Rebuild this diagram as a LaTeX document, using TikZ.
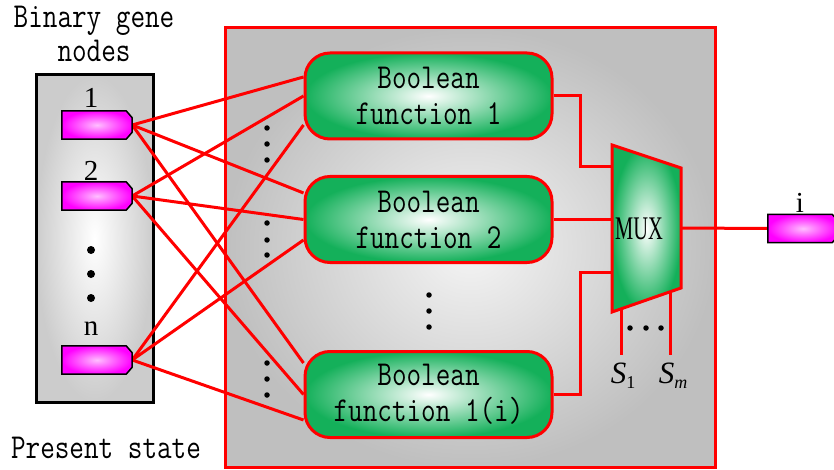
\documentclass[tikz,border=0pt]{standalone}
\usepackage{fontspec}
\setmainfont{Liberation Serif}
\newfontfamily\gfont[FakeStretch=0.81]{Latin Modern Mono}
\newfontfamily\muxfont[FakeStretch=0.62]{Liberation Serif}
\usetikzlibrary{calc}
\pgfdeclarelayer{back}
\pgfdeclarelayer{wires}
\pgfsetlayers{back,wires,main}
\definecolor{gr}{RGB}{20,176,90}
\definecolor{pk}{RGB}{255,0,255}
\newcommand\genepath[1]{%
  \shade[draw=black, line width=1.5pt, inner color=white!75!pk, outer color=pk]
    (#1.north west) -- ([xshift=-6pt]#1.north east) -- ([yshift=-7pt]#1.north east)
    -- ([yshift=7pt]#1.south east) -- ([xshift=-6pt]#1.south east) -- (#1.south west) -- cycle;}
\begin{document}
\begin{tikzpicture}[x=1pt,y=-1pt,
  wire/.style={draw=red,line width=3pt},
  gene/.style={minimum width=70pt, minimum height=28pt, inner sep=0pt},
  bfbox/.style={rounded corners=25pt, draw=red, line width=3pt, inner color=white, outer color=gr,
    minimum width=247pt, minimum height=86pt, align=center, inner sep=0pt,
    font=\gfont\fontsize{35}{36}\selectfont},
  lab/.style={font=\fontsize{29}{29}\selectfont, inner sep=0pt},
  mono/.style={font=\gfont\fontsize{35}{34}\selectfont, inner sep=0pt, anchor=base},
  bigdot/.style={circle, fill=black, inner sep=0pt, minimum size=8pt},
  dot/.style={circle, fill=black, inner sep=0pt, minimum size=5.5pt},
]
\useasboundingbox (0,0) rectangle (834,470);

% panels
\begin{pgfonlayer}{back}
  \node[draw=black, line width=3pt, inner color=white, outer color=gray!40,
        minimum width=117pt, minimum height=327pt, inner sep=0pt] (left) at (94.5,238.5) {};
  \node[draw=red, line width=3pt, inner color=white!96!black, outer color=gray!50,
        minimum width=490pt, minimum height=439pt, inner sep=0pt] (panel) at (470,247.5) {};
\end{pgfonlayer}

% titles
\node[mono] (t1) at (94,28) {Binary gene};
\node[mono] (t2) at (94,62) {nodes};
\node[mono] (t3) at (106,458) {Present state};

% gene nodes
\node[gene] (g1) at (97,125) {};
\node[gene] (g2) at (97,196) {};
\node[gene] (gn) at (97,360) {};
\genepath{g1}
\genepath{g2}
\genepath{gn}
\node[lab] (l1) at (91,98) {1};
\node[lab] (l2) at (91,171) {2};
\node[lab] (ln) at (91,329) {n};
\node[bigdot] (d1) at (91,250) {};
\node[bigdot] (d2) at (91,274) {};
\node[bigdot] (d3) at (91,298) {};

% boolean functions
\node[bfbox] (bf1) at (428.5,96) {Boolean\\function 1};
\node[bfbox] (bf2) at (428.5,219.5) {Boolean\\function 2};
\node[bfbox] (bf3) at (428.5,394.5) {Boolean\\function 1(i)};

% dots
\foreach \yy [count=\k] in {128,144,160,223,240,255,363,379,395}
  \node[dot] (cd\k) at (267,\yy) {};
\foreach \yy [count=\k] in {295,311,327}
  \node[dot] (md\k) at (429,\yy) {};

% MUX
\shade[draw=red, line width=3pt, inner color=white, outer color=gr, line join=miter]
  (612,145) -- (681,168) -- (681,288) -- (612,312) -- cycle;
\node[font=\muxfont\fontsize{33}{33}\selectfont, inner sep=0pt] (mux) at (639,229) {MUX};
\coordinate (m1) at (612,167);
\coordinate (m2) at (612,219.5);
\coordinate (m3) at (612,272);
\coordinate (mo) at (681,228);
\coordinate (s1t) at (621,309);
\coordinate (smt) at (670,292);
\coordinate (s1b) at (621,355);
\coordinate (smb) at (670,355);

% output gene
\node[gene] (gi) at (803,228.5) {};
\genepath{gi}
\node[lab] (li) at (800,203) {i};

% select labels
\node[inner sep=0pt, anchor=base] (s1) at (623,383)
  {\fontsize{31}{31}\selectfont\itshape S\raisebox{-5pt}{\fontsize{18}{18}\selectfont\upshape 1}};
\node[inner sep=0pt, anchor=base] (sm) at (673,383)
  {\fontsize{31}{31}\selectfont\itshape S\raisebox{-5pt}{\fontsize{18}{18}\selectfont m}};
\node[dot] (sd1) at (630,328) {};
\node[dot] (sd2) at (646,328) {};
\node[dot] (sd3) at (661,328) {};

% wires
\begin{pgfonlayer}{wires}
  \draw[wire] (g1.east) -- ([yshift=19pt]bf1.west);
  \draw[wire] (g1.east) -- ([yshift=26.5pt]bf2.west);
  \draw[wire] (g1.east) -- ([yshift=31.5pt]bf3.west);
  \draw[wire] (g2.east) -- (bf1.west);
  \draw[wire] (g2.east) -- (bf2.west);
  \draw[wire] (g2.east) -- (bf3.west);
  \draw[wire] (gn.east) -- ([yshift=-29pt]bf1.west);
  \draw[wire] (gn.east) -- ([yshift=-20.5pt]bf2.west);
  \draw[wire] (gn.east) -- ([yshift=-25.5pt]bf3.west);
  \draw[wire] (bf1.east) -| ($(m1)+(-32,0)$) -- (m1);
  \draw[wire] (bf2.east) -- (m2);
  \draw[wire] (bf3.east) -| ($(m3)+(-32,0)$) -- (m3);
  \draw[wire] (mo) -- (gi.west);
  \draw[wire] (s1t) -- (s1b);
  \draw[wire] (smt) -- (smb);
\end{pgfonlayer}
\end{tikzpicture}
\end{document}
